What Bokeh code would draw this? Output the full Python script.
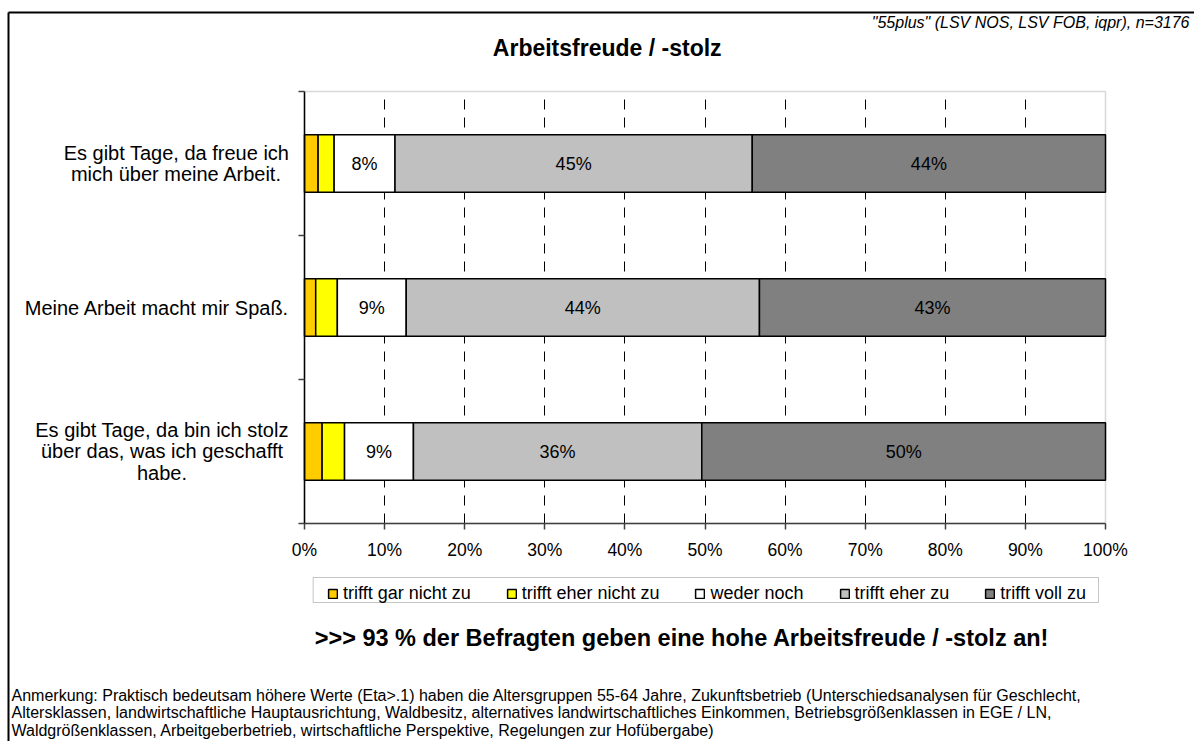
from bokeh.plotting import figure
from bokeh.models import (ColumnDataSource, Range1d, FixedTicker, Label, BoxAnnotation,
                          Legend, LegendItem)
from bokeh.core.properties import value
from bokeh.embed import file_html
from bokeh.resources import INLINE

# ---------------- data ----------------
categories = [
    "Es gibt Tage, da freue ich\nmich über meine Arbeit.",
    "Meine Arbeit macht mir Spaß.",
    "Es gibt Tage, da bin ich stolz\nüber das, was ich geschafft\nhabe.",
]
series_names = ["trifft gar nicht zu", "trifft eher nicht zu", "weder noch",
                "trifft eher zu", "trifft voll zu"]
v_gar_nicht = [1.7, 1.4, 2.2]
v_eher_nicht = [2.0, 2.7, 2.8]
v_weder = [7.6, 8.6, 8.6]
v_eher = [44.6, 44.1, 36.0]
v_voll = [44.1, 43.2, 50.4]
x_ticks = [0, 10, 20, 30, 40, 50, 60, 70, 80, 90, 100]
x_tick_labels = ["0%", "10%", "20%", "30%", "40%", "50%", "60%", "70%", "80%", "90%", "100%"]
title_text = "Arbeitsfreude / -stolz"
source_text = '"55plus" (LSV NOS, LSV FOB, iqpr), n=3176'
summary_text = ">>> 93 % der Befragten geben eine hohe Arbeitsfreude / -stolz an!"
note_lines = [
    "Anmerkung: Praktisch bedeutsam höhere Werte (Eta>.1) haben die Altersgruppen 55-64 Jahre, Zukunftsbetrieb (Unterschiedsanalysen für Geschlecht,",
    "Altersklassen, landwirtschaftliche Hauptausrichtung, Waldbesitz, alternatives landwirtschaftliches Einkommen, Betriebsgrößenklassen in EGE / LN,",
    "Waldgrößenklassen, Arbeitgeberbetrieb, wirtschaftliche Perspektive, Regelungen zur Hofübergabe)",
]

# ---------------- styles / layout ----------------
colors = ["#FFCC00", "#FFFF00", "#FFFFFF", "#C0C0C0", "#808080"]
FONT = "Liberation Sans"
W, H = 1194, 741
PL, PR, PT, PB = 304, 1105, 91, 523   # plot area in pixels
N = len(categories)
XS = (PR - PL) / 100.0
YS = (PB - PT) / N


def dx(px):
    return (px - PL) / XS


def dy(py):
    return (PB - py) / YS


p = figure(width=W, height=H, output_backend="svg", toolbar_location=None, title=None,
           x_range=Range1d(dx(0), dx(W)), y_range=Range1d(dy(H), dy(0)), min_border=0)
p.background_fill_color = "white"
p.border_fill_color = "white"
p.outline_line_color = None

# axes (library axes pinned to the plot area)
p.xaxis.fixed_location = 0
p.xaxis.bounds = (0, 100)
p.xaxis.ticker = FixedTicker(ticks=x_ticks)
p.xaxis.major_label_overrides = {t: l for t, l in zip(x_ticks, x_tick_labels)}
p.xaxis.major_label_text_font = FONT
p.xaxis.major_label_text_font_size = "17.5px"
p.xaxis.major_label_text_color = "black"
p.xaxis.major_label_standoff = 10
p.xaxis.major_tick_out = 6
p.xaxis.major_tick_in = 0
p.xaxis.minor_tick_line_color = None
p.xaxis.axis_line_color = "#404040"
p.xaxis.axis_line_width = 1.5
p.xaxis.major_tick_line_color = "#404040"
p.xaxis.major_tick_line_width = 1.5

p.yaxis.fixed_location = 0
p.yaxis.bounds = (0, N)
p.yaxis.ticker = FixedTicker(ticks=list(range(N + 1)))
p.yaxis.major_label_overrides = {i: "" for i in range(N + 1)}
p.yaxis.major_tick_out = 6
p.yaxis.major_tick_in = 0
p.yaxis.minor_tick_line_color = None
p.yaxis.axis_line_color = "black"
p.yaxis.axis_line_width = 1.5
p.yaxis.major_tick_line_color = "#404040"
p.yaxis.major_tick_line_width = 1.5

p.ygrid.grid_line_color = None
p.xgrid.ticker = FixedTicker(ticks=x_ticks[1:-1])
p.xgrid.grid_line_color = "black"
p.xgrid.grid_line_width = 1
p.xgrid.grid_line_dash = "10 8"
try:
    p.xgrid.cross_bounds = (0, N)
    grid_bounded = True
except Exception:
    grid_bounded = False
if not grid_bounded:
    # hide grid lines outside the plot area
    p.quad(left=[0, 0], right=[100, 100], bottom=[dy(H), N], top=[0, dy(0)],
           fill_color="white", line_color=None)

# plot-area outline (grey, like the original)
p.add_layout(BoxAnnotation(left=0, right=100, bottom=0, top=N, fill_alpha=0,
                           line_color="#808080", line_width=1.5, level="underlay"))

# bars
ypos = [N - 0.5 - i for i in range(N)]
keys = ["gar", "eher_nicht", "weder", "eher", "voll"]
series = [v_gar_nicht, v_eher_nicht, v_weder, v_eher, v_voll]
src = ColumnDataSource(dict(y=ypos, **{k: s for k, s in zip(keys, series)}))
renderers = p.hbar_stack(keys, y="y", height=0.4, fill_color=colors,
                         line_color="black", line_width=1.5, source=src)

# segment labels
lx, ly, lt = [], [], []
for i in range(N):
    left = 0.0
    for s in series:
        v = s[i]
        if v >= 5:
            lx.append(left + v / 2)
            ly.append(ypos[i])
            lt.append(f"{round(v):d}%")
        left += v
p.text(x=lx, y=ly, text=lt, text_align="center", text_baseline="middle",
       text_font=value(FONT), text_font_size="18px", text_color="black")

# legend
p.add_layout(BoxAnnotation(left=dx(312.7), right=dx(1098), top=dy(577), bottom=dy(602),
                           fill_color="white", fill_alpha=1, line_color="#404040",
                           line_width=1, level="underlay"))
legend = Legend(items=[LegendItem(label=n, renderers=[r]) for n, r in zip(series_names, renderers)],
                orientation="horizontal", location=(327, H - 604), glyph_width=11, glyph_height=11,
                label_standoff=5, spacing=35, padding=4, margin=0, label_height=18,
                label_text_font=FONT, label_text_font_size="18px", label_text_color="black",
                border_line_color=None, background_fill_alpha=0)
p.add_layout(legend)

# category labels
cat_centers = [176, 156.5, 161.5]
for c, cx, yy in zip(categories, cat_centers, ypos):
    p.add_layout(Label(x=dx(cx), y=yy, text=c, text_align="center", text_baseline="middle",
                       text_font=FONT, text_font_size="20px", text_line_height=0.97,
                       text_color="black"))

# title and texts
p.add_layout(Label(x=dx(606.7), y=dy(47), text=title_text, text_align="center",
                   text_baseline="middle", text_font=FONT, text_font_style="bold",
                   text_font_size="23px", text_color="black"))
p.add_layout(Label(x=dx(1189), y=dy(22), text=source_text, text_align="right",
                   text_baseline="middle", text_font=FONT, text_font_style="italic",
                   text_font_size="16px", text_color="black"))
p.add_layout(Label(x=dx(681.5), y=dy(637), text=summary_text, text_align="center",
                   text_baseline="middle", text_font=FONT, text_font_style="bold",
                   text_font_size="23.5px", text_color="black"))
p.add_layout(Label(x=dx(11), y=dy(686), text="\n".join(note_lines), text_align="left",
                   text_baseline="top", text_font=FONT, text_font_size="16px",
                   text_line_height=1.04, text_color="black"))

# outer frame (left and top edges; the rest lies beyond the window)
p.segment(x0=[dx(8), dx(8)], y0=[dy(12), dy(12)], x1=[dx(8), dx(W)], y1=[dy(H), dy(12)],
          line_color="black", line_width=2, level="overlay")

open("out.html", "w").write(file_html(p, INLINE))
